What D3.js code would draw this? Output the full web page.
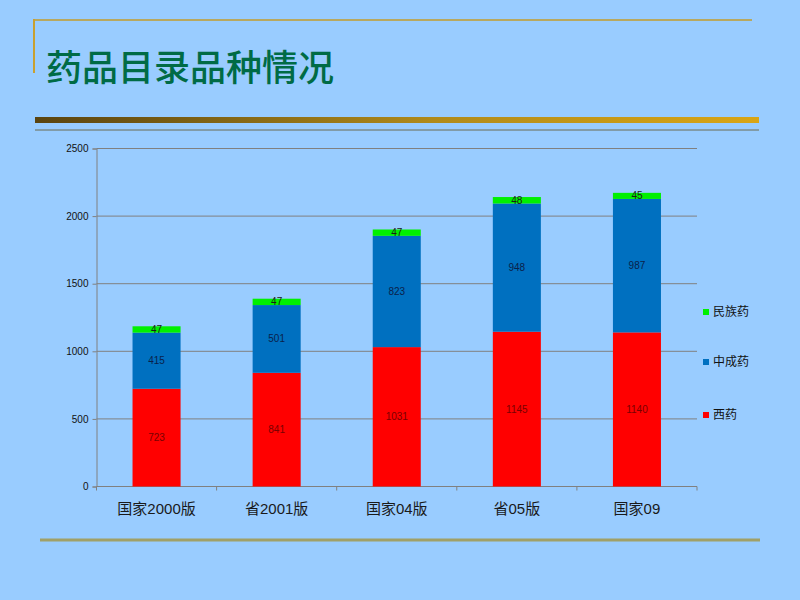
<!DOCTYPE html>
<html>
<head>
<meta charset="utf-8">
<script src="https://cdn.jsdelivr.net/npm/d3@7"></script>
<style>
  body { margin: 0; background: #99ccff; }
  svg { display: block; }
  text { font-family: "Liberation Sans", Arial, "Noto Sans CJK SC", sans-serif; }
  .cjk { font-family: "Noto Sans CJK SC", sans-serif; }
</style>
</head>
<body>
<div id="chart"></div>
<script>
// data
const categories = ['国家2000版', '省2001版', '国家04版', '省05版', '国家09']
const seriesNames = ['西药', '中成药', '民族药']
const xiyao = [723, 841, 1031, 1145, 1140]
const zhongchengyao = [415, 501, 823, 948, 987]
const minzuyao = [47, 47, 47, 48, 45]
const yTicks = [0, 500, 1000, 1500, 2000, 2500]

const colors = ['#ff0000', '#0070c0', '#00f000']
const labelColors = ['#7a0000', '#0a1f4a', '#1a1a1a']

const width = 800
const height = 600
const marginLeft = 96.5
const plotRight = 697
const plotTop = 148.5
const plotBottom = 486.5

const $svg = d3.select('#chart').append('svg')
  .attr('width', width)
  .attr('height', height)

$svg.append('rect').attr('width', width).attr('height', height).attr('fill', '#99ccff')

// slide decoration
const grad = $svg.append('defs').append('linearGradient')
  .attr('id', 'bar-grad')
grad.append('stop').attr('offset', '0%').attr('stop-color', '#5a4410')
grad.append('stop').attr('offset', '55%').attr('stop-color', '#b08a1a')
grad.append('stop').attr('offset', '100%').attr('stop-color', '#d9a514')

$svg.append('line')
  .attr('x1', 33).attr('x2', 752).attr('y1', 20).attr('y2', 20)
  .attr('stroke', '#b8a860').attr('stroke-width', 2)
$svg.append('line')
  .attr('x1', 34).attr('x2', 34).attr('y1', 19).attr('y2', 73)
  .attr('stroke', '#c8a030').attr('stroke-width', 2)

$svg.append('text')
  .attr('class', 'cjk')
  .attr('x', 46)
  .attr('y', 81)
  .attr('fill', '#006b45')
  .style('font-size', '36px')
  .style('font-weight', 500)
  .text('药品目录品种情况')

$svg.append('rect')
  .attr('x', 35).attr('y', 117).attr('width', 724).attr('height', 6)
  .attr('fill', 'url(#bar-grad)')
$svg.append('line')
  .attr('x1', 35).attr('x2', 759).attr('y1', 130).attr('y2', 130)
  .attr('stroke', '#6a6a50').attr('stroke-width', 1)

$svg.append('line')
  .attr('x1', 40).attr('x2', 760).attr('y1', 540).attr('y2', 540)
  .attr('stroke', '#a0a068').attr('stroke-width', 3)

// scales
const scaleX = d3.scaleBand()
  .domain(categories)
  .range([marginLeft, plotRight])
  .paddingInner(0.6)
  .paddingOuter(0.3)

const scaleY = d3.scaleLinear()
  .domain([0, 2500])
  .range([plotBottom, plotTop])

const table = categories.map((c, i) => ({
  cat: c,
  '西药': xiyao[i],
  '中成药': zhongchengyao[i],
  '民族药': minzuyao[i]
}))
const stacked = d3.stack().keys(seriesNames)(table)

// grid
$svg.append('g')
  .selectAll('line')
  .data(yTicks.filter(d => d > 0))
  .enter()
  .append('line')
  .attr('x1', marginLeft).attr('x2', plotRight)
  .attr('y1', d => scaleY(d)).attr('y2', d => scaleY(d))
  .attr('stroke', '#808080').attr('stroke-width', 1)

// y axis
const $yAxis = $svg.append('g')
  .attr('transform', `translate(${marginLeft}, 0)`)
  .call(d3.axisLeft(scaleY).tickValues(yTicks).tickFormat(d3.format('d')).tickSize(4).tickPadding(4))
$yAxis.selectAll('path, line').attr('stroke', '#808080')
$yAxis.selectAll('text').style('font-size', '10px').attr('fill', '#111')

// x axis with boundary ticks
const $xAxis = $svg.append('g')
  .attr('transform', `translate(0, ${plotBottom})`)
$xAxis.append('line')
  .attr('x1', marginLeft).attr('x2', plotRight)
  .attr('stroke', '#808080')
const step = scaleX.step()
const bounds = categories.map(c => scaleX(c) - (step - scaleX.bandwidth()) / 2)
bounds.push(plotRight)
$xAxis.selectAll('.tick-b')
  .data(bounds)
  .enter()
  .append('line')
  .attr('class', 'tick-b')
  .attr('x1', d => d).attr('x2', d => d)
  .attr('y1', 0).attr('y2', 4)
  .attr('stroke', '#808080')
$xAxis.selectAll('.cat')
  .data(categories)
  .enter()
  .append('text')
  .attr('class', 'cat')
  .attr('x', d => scaleX(d) + scaleX.bandwidth() / 2)
  .attr('y', 27)
  .attr('text-anchor', 'middle')
  .attr('fill', '#1a1a1a')
  .style('font-size', '15px')
  .text(d => d)

// bars
const $series = $svg.append('g')
  .selectAll('.series')
  .data(stacked)
  .enter()
  .append('g')
  .attr('class', 'series')

$series.selectAll('rect')
  .data((s, si) => s.map(d => ({ d, si })))
  .enter()
  .append('rect')
  .attr('x', o => scaleX(o.d.data.cat))
  .attr('width', scaleX.bandwidth())
  .attr('y', o => scaleY(o.d[1]))
  .attr('height', o => scaleY(o.d[0]) - scaleY(o.d[1]))
  .attr('fill', o => colors[o.si])

$series.selectAll('text')
  .data((s, si) => s.map(d => ({ d, si })))
  .enter()
  .append('text')
  .attr('x', o => scaleX(o.d.data.cat) + scaleX.bandwidth() / 2)
  .attr('y', o => (scaleY(o.d[0]) + scaleY(o.d[1])) / 2)
  .attr('dy', '0.35em')
  .attr('text-anchor', 'middle')
  .attr('fill', o => labelColors[o.si])
  .style('font-size', '10px')
  .text(o => o.d[1] - o.d[0])

// legend
const legendY = [415, 362, 312]
const $legend = $svg.append('g')
  .selectAll('.legend')
  .data(seriesNames)
  .enter()
  .append('g')
  .attr('class', 'legend')
  .attr('transform', (d, i) => `translate(703, ${legendY[i]})`)
$legend.append('rect')
  .attr('x', 0).attr('y', -3).attr('width', 6).attr('height', 6)
  .attr('fill', (d, i) => colors[i])
$legend.append('text')
  .attr('x', 10)
  .attr('dy', '0.36em')
  .attr('fill', '#111')
  .style('font-size', '12px')
  .text(d => d)
</script>
</body>
</html>
